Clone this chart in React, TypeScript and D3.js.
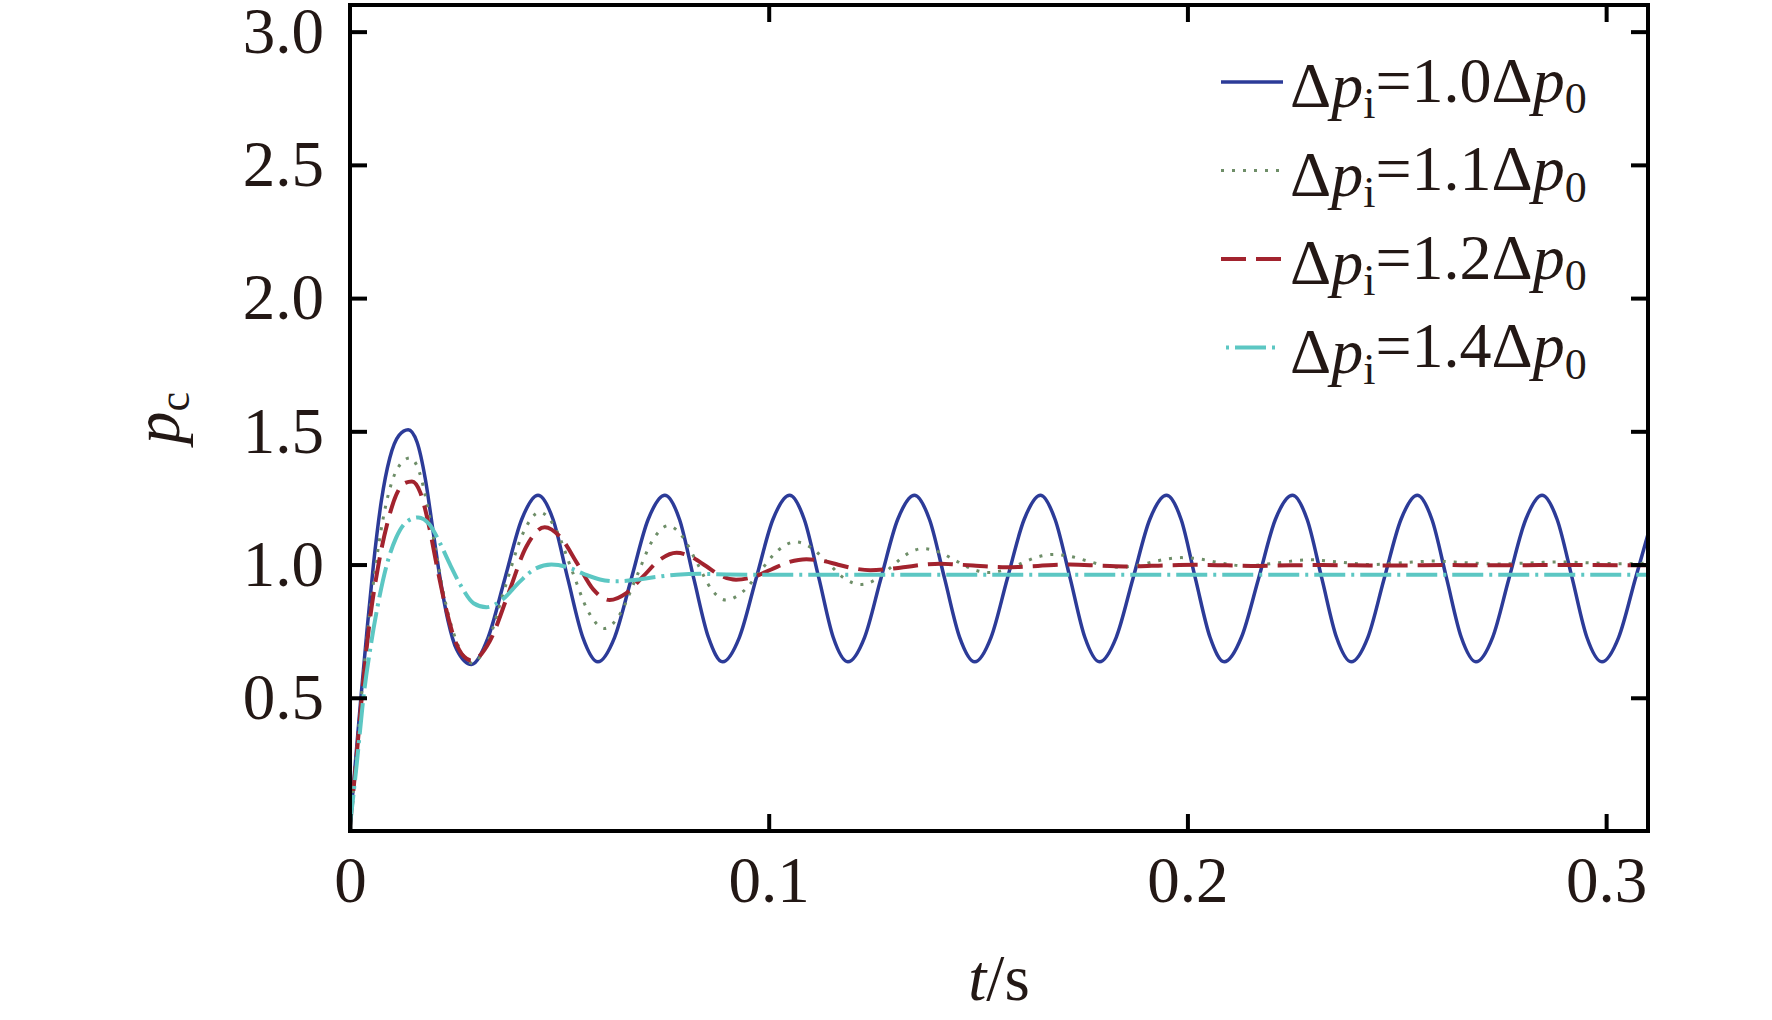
import React, { useEffect, useRef } from "react";
import * as d3 from "d3";

// p_c(t) readings for each step ratio, as [t in s, p_c]
const curve10: [number, number][] = [
  [0, 0.02], [0.0013, 0.26], [0.0026, 0.5], [0.0041, 0.76], [0.0056, 1.0], [0.0075, 1.24], [0.0095, 1.4],
  [0.0117, 1.485], [0.0139, 1.506], [0.016, 1.46], [0.018, 1.32], [0.0198, 1.13], [0.0215, 0.95],
  [0.0234, 0.79], [0.0255, 0.68], [0.029, 0.625],
  [0.033, 0.727], [0.037, 0.948], [0.041, 1.169], [0.0449, 1.26],
  [0.0485, 1.169], [0.052, 0.948], [0.0556, 0.727], [0.0592, 0.635],
  [0.0632, 0.727], [0.0672, 0.948], [0.0712, 1.169], [0.0752, 1.26],
  [0.0787, 1.169], [0.0821, 0.948], [0.0856, 0.727], [0.089, 0.635],
  [0.093, 0.727], [0.097, 0.948], [0.101, 1.169], [0.105, 1.26],
  [0.1085, 1.169], [0.112, 0.948], [0.1154, 0.727], [0.1189, 0.635],
  [0.1229, 0.727], [0.1268, 0.948], [0.1308, 1.169], [0.1348, 1.26],
  [0.1384, 1.169], [0.142, 0.948], [0.1456, 0.727], [0.1492, 0.635],
  [0.1531, 0.727], [0.157, 0.948], [0.161, 1.169], [0.1649, 1.26],
  [0.1684, 1.169], [0.172, 0.948], [0.1755, 0.727], [0.179, 0.635],
  [0.183, 0.727], [0.187, 0.948], [0.191, 1.169], [0.195, 1.26],
  [0.1985, 1.169], [0.2019, 0.948], [0.2054, 0.727], [0.2088, 0.635],
  [0.2129, 0.727], [0.217, 0.948], [0.221, 1.169], [0.2251, 1.26],
  [0.2286, 1.169], [0.2321, 0.948], [0.2356, 0.727], [0.2391, 0.635],
  [0.2431, 0.727], [0.247, 0.948], [0.251, 1.169], [0.2549, 1.26],
  [0.2584, 1.169], [0.2619, 0.948], [0.2654, 0.727], [0.2689, 0.635],
  [0.2729, 0.727], [0.2768, 0.948], [0.2808, 1.169], [0.2847, 1.26],
  [0.2883, 1.169], [0.2919, 0.948], [0.2954, 0.727], [0.299, 0.635],
  [0.303, 0.727], [0.307, 0.948], [0.311, 1.169],
];

const curve11: [number, number][] = [
  [0, 0.02], [0.0013, 0.25], [0.0027, 0.5], [0.0043, 0.76], [0.006, 0.98], [0.008, 1.18], [0.01, 1.31],
  [0.0122, 1.38], [0.0143, 1.4], [0.0165, 1.35], [0.0185, 1.22], [0.0205, 1.05], [0.0225, 0.88],
  [0.0248, 0.74], [0.027, 0.66], [0.0292, 0.63],
  [0.033, 0.713], [0.037, 0.913], [0.0412, 1.113], [0.0453, 1.196],
  [0.0492, 1.132], [0.053, 0.978], [0.0569, 0.824], [0.0608, 0.76],
  [0.0646, 0.817], [0.0684, 0.953], [0.0722, 1.089], [0.076, 1.146],
  [0.0794, 1.105], [0.0829, 1.006], [0.0863, 0.908], [0.0897, 0.867],
  [0.0939, 0.899], [0.098, 0.976], [0.1022, 1.053], [0.1064, 1.085],
  [0.1103, 1.062], [0.1142, 1.005], [0.1181, 0.948], [0.122, 0.925],
  [0.1257, 0.945], [0.1294, 0.993], [0.1331, 1.04], [0.1368, 1.06],
  [0.1407, 1.047], [0.1446, 1.015], [0.1486, 0.983], [0.1525, 0.97],
  [0.1564, 0.98], [0.1603, 1.004], [0.1641, 1.028], [0.168, 1.038],
  [0.172, 1.031], [0.176, 1.014], [0.18, 0.997], [0.184, 0.99],
  [0.1876, 0.996], [0.1912, 1.008], [0.1948, 1.02], [0.1985, 1.026],
  [0.2024, 1.022], [0.2063, 1.011], [0.2101, 1.0], [0.214, 0.995],
  [0.2218, 1.007], [0.229, 1.018], [0.2365, 1.009], [0.244, 1.0], [0.2515, 1.007], [0.259, 1.013],
  [0.2665, 1.007], [0.274, 1.002], [0.2815, 1.006], [0.289, 1.01], [0.2965, 1.006], [0.304, 1.003],
  [0.311, 1.007],
];

const curve12: [number, number][] = [
  [0, 0.02], [0.0014, 0.25], [0.0028, 0.5], [0.0045, 0.76], [0.0068, 1.0], [0.009, 1.16], [0.011, 1.26],
  [0.013, 1.305], [0.0148, 1.312], [0.0168, 1.27], [0.0188, 1.15], [0.0208, 0.99], [0.023, 0.83],
  [0.0252, 0.71], [0.0272, 0.655], [0.029, 0.64],
  [0.0334, 0.713], [0.0378, 0.89], [0.0421, 1.067], [0.0465, 1.14],
  [0.0504, 1.1], [0.0543, 1.0035], [0.0581, 0.907], [0.062, 0.867],
  [0.066, 0.893], [0.07, 0.9555], [0.074, 1.018], [0.078, 1.044],
  [0.0815, 1.029], [0.0851, 0.9935], [0.0886, 0.958], [0.0922, 0.943],
  [0.0964, 0.954], [0.1006, 0.9815], [0.1048, 1.009], [0.109, 1.02],
  [0.1128, 1.014], [0.1166, 0.9995], [0.1205, 0.985], [0.1243, 0.979],
  [0.1285, 0.983], [0.1327, 0.991], [0.1368, 0.999], [0.141, 1.003],
  [0.1449, 1.0], [0.1488, 0.9965], [0.1528, 0.992], [0.1567, 0.99],
  [0.1643, 0.995], [0.172, 1.0], [0.1795, 0.996], [0.187, 0.993], [0.1945, 0.997], [0.202, 0.999],
  [0.2095, 0.997], [0.217, 0.995], [0.2245, 0.997], [0.232, 0.998], [0.2395, 0.997], [0.247, 0.996],
  [0.2545, 0.997], [0.262, 0.998], [0.2695, 0.997], [0.277, 0.997], [0.2845, 0.998], [0.292, 0.998],
  [0.311, 0.997],
];

const curve14: [number, number][] = [
  [0, 0.02], [0.0016, 0.25], [0.0032, 0.5], [0.005, 0.7], [0.0068, 0.86], [0.0088, 1.0], [0.011, 1.1],
  [0.0135, 1.16], [0.0163, 1.177], [0.019, 1.15], [0.0215, 1.08], [0.0239, 1.0], [0.0265, 0.92],
  [0.0295, 0.855], [0.0326, 0.84], [0.0365, 0.87], [0.0405, 0.935], [0.0443, 0.985], [0.0481, 1.0],
  [0.052, 0.99], [0.0558, 0.965], [0.0597, 0.944], [0.0636, 0.937], [0.068, 0.942], [0.0725, 0.952],
  [0.078, 0.962], [0.084, 0.965], [0.09, 0.963], [0.096, 0.962], [0.12, 0.962], [0.15, 0.962],
  [0.2, 0.962], [0.25, 0.962], [0.311, 0.962],
];

const legendRatios = ["1.0", "1.1", "1.2", "1.4"];
const xTicks = [0, 0.1, 0.2, 0.3];
const yTicks = [0.5, 1.0, 1.5, 2.0, 2.5, 3.0];

const seriesStyles = [
  { data: curve10, color: "#2c3b98", width: 3.5, dash: null as string | null },
  { data: curve11, color: "#6e8e68", width: 3, dash: "3,8" },
  { data: curve12, color: "#a2232e", width: 4, dash: "25,10" },
  { data: curve14, color: "#5cc7c3", width: 4, dash: "31,6,3,6" },
];

const FONT = "'Liberation Serif', 'Times New Roman', serif";

const App: React.FC = () => {
  const ref = useRef<SVGSVGElement>(null);

  useEffect(() => {
    if (!ref.current) return;
    const svg = d3.select(ref.current);
    svg.selectAll("*").remove();

    // plot frame
    const left = 350, right = 1648, top = 5, bottom = 831;
    const tick = 17;

    const x = d3.scaleLinear().domain([0, 0.31]).range([left, right]);
    const y = d3.scaleLinear().domain([0, 3.1]).range([bottom, top]);

    svg.append("defs").append("clipPath").attr("id", "plot-clip")
      .append("rect").attr("x", left).attr("y", top)
      .attr("width", right - left).attr("height", bottom - top);

    // curves
    const line = d3.line<[number, number]>()
      .x(d => x(d[0]))
      .y(d => y(d[1]))
      .curve(d3.curveMonotoneX);

    const lines = svg.append("g").attr("clip-path", "url(#plot-clip)");
    seriesStyles.forEach(s => {
      lines.append("path")
        .datum(s.data)
        .attr("d", line)
        .attr("fill", "none")
        .attr("stroke", s.color)
        .attr("stroke-width", s.width)
        .attr("stroke-dasharray", s.dash ?? null)
        .attr("stroke-linejoin", "round");
    });

    // axes, ticks inside on all four sides
    const styleAxis = (g: d3.Selection<SVGGElement, unknown, null, undefined>) => {
      g.select(".domain").remove();
      g.selectAll(".tick line").attr("stroke", "#000").attr("stroke-width", 4);
      g.selectAll(".tick text")
        .attr("fill", "#231815")
        .style("font-family", FONT)
        .style("font-size", "65px");
    };

    svg.append("g")
      .attr("transform", `translate(0,${bottom})`)
      .call(d3.axisBottom(x).tickValues(xTicks).tickSize(-tick).tickPadding(25)
        .tickFormat(d => (d === 0 ? "0" : d3.format(".1f")(d as number))))
      .call(styleAxis);

    svg.append("g")
      .attr("transform", `translate(0,${top})`)
      .call(d3.axisTop(x).tickValues(xTicks.slice(1)).tickSize(-tick).tickFormat(() => ""))
      .call(styleAxis);

    svg.append("g")
      .attr("transform", `translate(${left},0)`)
      .call(d3.axisLeft(y).tickValues(yTicks).tickSize(-tick).tickPadding(26)
        .tickFormat(d => d3.format(".1f")(d as number)))
      .call(styleAxis);

    svg.append("g")
      .attr("transform", `translate(${right},0)`)
      .call(d3.axisRight(y).tickValues(yTicks).tickSize(-tick).tickFormat(() => ""))
      .call(styleAxis);

    svg.append("rect")
      .attr("x", left).attr("y", top)
      .attr("width", right - left).attr("height", bottom - top)
      .attr("fill", "none").attr("stroke", "#000").attr("stroke-width", 4);

    // axis titles
    const xt = svg.append("text")
      .attr("x", (left + right) / 2).attr("y", 1000)
      .attr("text-anchor", "middle")
      .attr("fill", "#231815")
      .style("font-family", FONT).style("font-size", "65px");
    xt.append("tspan").style("font-style", "italic").text("t");
    xt.append("tspan").text("/s");

    const yt = svg.append("text")
      .attr("transform", `translate(179,${(top + bottom) / 2}) rotate(-90)`)
      .attr("text-anchor", "middle")
      .attr("fill", "#231815")
      .style("font-family", FONT).style("font-size", "65px");
    yt.append("tspan").style("font-style", "italic").text("p");
    yt.append("tspan").attr("dy", "0.22em").style("font-size", "44px").text("c");

    // legend
    const rowY = d3.scaleLinear().domain([0, 1]).range([82, 170.5]);
    const leg = svg.append("g");
    legendRatios.forEach((r, i) => {
      const s = seriesStyles[i];
      const yy = rowY(i);
      const x0 = i === 3 ? 1226 : 1221;
      const x1 = i === 3 ? 1277 : 1283;
      leg.append("line")
        .attr("x1", x0).attr("x2", x1).attr("y1", yy).attr("y2", yy)
        .attr("stroke", s.color).attr("stroke-width", s.width)
        .attr("stroke-dasharray", s.dash ?? null)
        .attr("stroke-dashoffset", i === 3 ? 37 : 0);
      const t = leg.append("text")
        .attr("x", 1290).attr("y", yy + 25)
        .attr("fill", "#231815")
        .style("font-family", FONT).style("font-size", "64px");
      t.append("tspan").text("Δ");
      t.append("tspan").style("font-style", "italic").text("p");
      t.append("tspan").attr("dy", "0.26em").style("font-size", "44px").text("i");
      t.append("tspan").attr("dy", "-0.26em").text(`=${r}Δ`);
      t.append("tspan").style("font-style", "italic").text("p");
      t.append("tspan").attr("dy", "0.26em").style("font-size", "44px").text("0");
    });
  }, []);

  return (
    <svg
      ref={ref}
      width={1772}
      height={1020}
      style={{ position: "absolute", left: 0, top: 0, background: "#fff" }}
    />
  );
};

export default App;
